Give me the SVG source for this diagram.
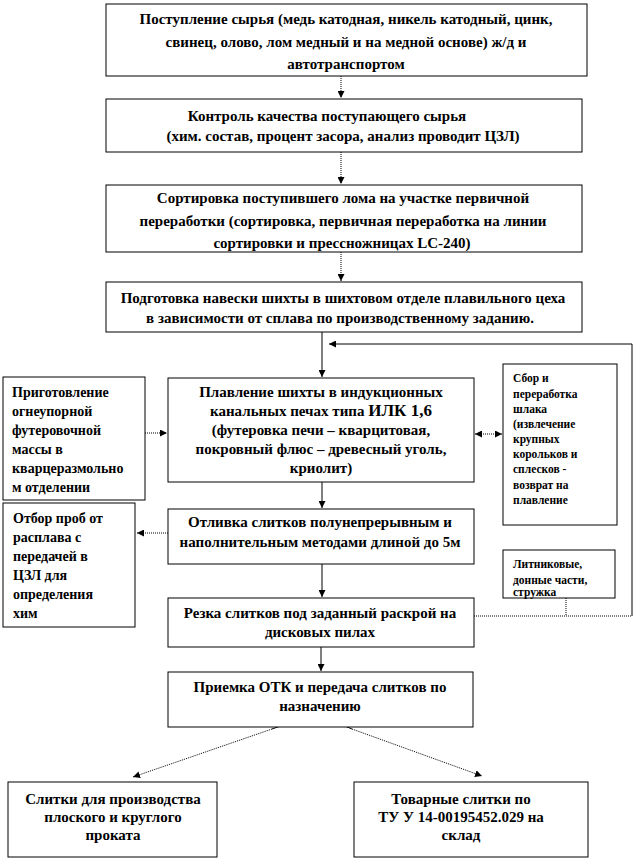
<svg xmlns="http://www.w3.org/2000/svg" width="635" height="860" viewBox="0 0 635 860">
<style>
.box{fill:#fff;stroke:#000;stroke-width:1}
.t{font-family:"Liberation Serif","Times New Roman",serif;font-weight:bold;font-size:14px;fill:#000}
.c{text-anchor:middle;font-size:15px}
.s{font-size:11.5px}
.ln{fill:none;stroke:#000;stroke-width:1}
.dt{fill:none;stroke:#000;stroke-width:1;stroke-dasharray:1 1}
</style>
<defs>
<marker id="ah" viewBox="0 0 8 8" refX="8" refY="4" markerWidth="7" markerHeight="7" markerUnits="userSpaceOnUse" orient="auto-start-reverse">
<path d="M0,0 L8,4 L0,8 z" fill="#000"/>
</marker>
</defs>
<rect width="635" height="860" fill="#fff"/>

<g id="connectors">
<line class="dt" x1="341" y1="76" x2="341" y2="98" marker-end="url(#ah)"/>
<line class="dt" x1="341" y1="152" x2="341" y2="184" marker-end="url(#ah)"/>
<line class="dt" x1="341" y1="252" x2="341" y2="281" marker-end="url(#ah)"/>
<line class="ln" x1="322" y1="332" x2="322" y2="377" marker-end="url(#ah)"/>
<polyline class="dt" points="474,616 632,616"/>
<polyline class="ln" points="632,616 632,344 329,344" marker-end="url(#ah)"/>
<line class="dt" x1="566" y1="598" x2="566" y2="616"/>
<line class="dt" x1="145" y1="433" x2="167" y2="433" marker-end="url(#ah)"/>
<line class="dt" x1="475" y1="434" x2="502" y2="434" marker-start="url(#ah)" marker-end="url(#ah)"/>
<line class="ln" x1="322" y1="482" x2="322" y2="508" marker-end="url(#ah)"/>
<line class="dt" x1="168" y1="533" x2="137" y2="533" marker-end="url(#ah)"/>
<line class="ln" x1="322" y1="564" x2="322" y2="597" marker-end="url(#ah)"/>
<line class="ln" x1="321" y1="647" x2="321" y2="671" marker-end="url(#ah)"/>
<line class="ln" x1="286" y1="724" x2="272" y2="729"/>
<line class="dt" x1="272" y1="729" x2="133" y2="777" marker-end="url(#ah)"/>
<line class="ln" x1="340" y1="724" x2="352" y2="729"/>
<line class="dt" x1="352" y1="729" x2="482" y2="776" marker-end="url(#ah)"/>
</g>

<g id="n1">
<rect class="box" x="106" y="4" width="481" height="72"/>
<text class="t c" x="346" y="24">Поступление сырья (медь катодная, никель катодный, цинк,</text>
<text class="t c" x="346" y="47">свинец, олово, лом медный и на медной основе) ж/д и</text>
<text class="t c" x="346" y="69">автотранспортом</text>
</g>

<g id="n2">
<rect class="box" x="106" y="99" width="476" height="53"/>
<text class="t c" x="327" y="121">Контроль качества поступающего сырья</text>
<text class="t c" x="343" y="141">(хим. состав, процент засора, анализ проводит ЦЗЛ)</text>
</g>

<g id="n3">
<rect class="box" x="106" y="185" width="476" height="67"/>
<text class="t c" x="343" y="203">Сортировка поступившего лома на участке первичной</text>
<text class="t c" x="343" y="226">переработки (сортировка, первичная переработка на линии</text>
<text class="t c" x="342" y="248">сортировки и прессножницах LC-240)</text>
</g>

<g id="n4">
<rect class="box" x="106" y="282" width="476" height="50"/>
<text class="t c" x="343" y="303">Подготовка навески шихты в шихтовом отделе плавильного цеха</text>
<text class="t c" x="340" y="323">в зависимости от сплава по производственному заданию.</text>
</g>

<g id="n5">
<rect class="box" x="168" y="378" width="306" height="104"/>
<text class="t c" x="321" y="397">Плавление шихты в индукционных</text>
<text class="t c" x="321" y="416">канальных печах типа <tspan font-size="17">ИЛК 1,6</tspan></text>
<text class="t c" x="321" y="435">(футеровка печи – кварцитовая,</text>
<text class="t c" x="321" y="454">покровный флюс – древесный уголь,</text>
<text class="t c" x="321" y="473">криолит)</text>
</g>

<g id="n6">
<rect class="box" x="3" y="377" width="142" height="123"/>
<text class="t" x="12" y="397">Приготовление</text>
<text class="t" x="12" y="416">огнеупорной</text>
<text class="t" x="12" y="435">футеровочной</text>
<text class="t" x="12" y="454">массы в</text>
<text class="t" x="12" y="473">кварцеразмольно</text>
<text class="t" x="12" y="492">м отделении</text>
</g>

<g id="n7">
<rect class="box" x="503" y="364" width="114" height="161"/>
<text class="t s" x="513" y="382">Сбор и</text>
<text class="t s" x="513" y="398">переработка</text>
<text class="t s" x="513" y="413">шлака</text>
<text class="t s" x="513" y="428">(извлечение</text>
<text class="t s" x="513" y="443">крупных</text>
<text class="t s" x="513" y="458">корольков и</text>
<text class="t s" x="513" y="473">сплесков -</text>
<text class="t s" x="513" y="489">возврат на</text>
<text class="t s" x="513" y="504">плавление</text>
</g>

<g id="n8">
<rect class="box" x="168" y="509" width="306" height="55"/>
<text class="t c" x="320" y="527">Отливка слитков полунепрерывным и</text>
<text class="t c" x="320" y="547">наполнительным методами длиной до 5м</text>
</g>

<g id="n9">
<rect class="box" x="3" y="503" width="132" height="124"/>
<text class="t" x="13" y="523">Отбор проб от</text>
<text class="t" x="13" y="542">расплава с</text>
<text class="t" x="13" y="561">передачей в</text>
<text class="t" x="13" y="580">ЦЗЛ для</text>
<text class="t" x="13" y="599">определения</text>
<text class="t" x="13" y="618">хим</text>
</g>

<g id="n10">
<rect class="box" x="503" y="550" width="112" height="48"/>
<text class="t s" x="513" y="568">Литниковые,</text>
<text class="t s" x="513" y="584">донные части,</text>
<text class="t s" x="513" y="596">стружка</text>
</g>

<g id="n11">
<rect class="box" x="168" y="598" width="306" height="49"/>
<text class="t c" x="320" y="618">Резка слитков под заданный раскрой на</text>
<text class="t c" x="320" y="637">дисковых пилах</text>
</g>

<g id="n12">
<rect class="box" x="168" y="672" width="305" height="55"/>
<text class="t c" x="320" y="692">Приемка ОТК и передача слитков по</text>
<text class="t c" x="320" y="711">назначению</text>
</g>

<g id="n13">
<rect class="box" x="8" y="782" width="209" height="75"/>
<text class="t c" x="113" y="804">Слитки для производства</text>
<text class="t c" x="113" y="822">плоского и круглого</text>
<text class="t c" x="113" y="840">проката</text>
</g>

<g id="n14">
<rect class="box" x="354" y="782" width="234" height="75"/>
<text class="t c" x="461" y="804">Товарные слитки по</text>
<text class="t c" x="461" y="822">ТУ У 14-00195452.029 на</text>
<text class="t c" x="461" y="840">склад</text>
</g>
</svg>
